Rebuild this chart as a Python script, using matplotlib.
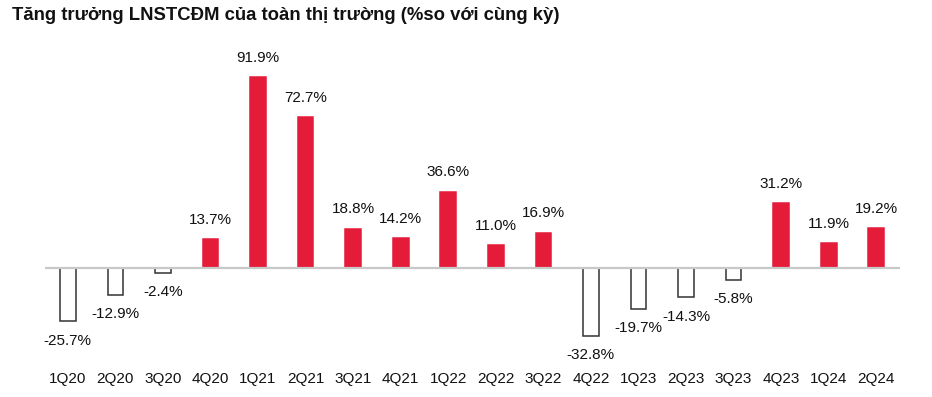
import matplotlib
matplotlib.use("Agg")
import matplotlib.pyplot as plt

plt.rcParams['font.family'] = ['Liberation Sans', 'DejaVu Sans']

quy = ["1Q20", "2Q20", "3Q20", "4Q20", "1Q21", "2Q21", "3Q21", "4Q21", "1Q22",
       "2Q22", "3Q22", "4Q22", "1Q23", "2Q23", "3Q23", "4Q23", "1Q24", "2Q24"]
tang_truong = [-25.7, -12.9, -2.4, 13.7, 91.9, 72.7, 18.8, 14.2, 36.6,
               11.0, 16.9, -32.8, -19.7, -14.3, -5.8, 31.2, 11.9, 19.2]

do = "#E41B39"

fig = plt.figure(figsize=(9.32, 3.97), dpi=100)
ax = fig.add_axes([0.0483, 0.106, 0.9174, 0.768])

x = list(range(len(quy)))
mau = [do if v >= 0 else "white" for v in tang_truong]
vien = [do if v >= 0 else "#333333" for v in tang_truong]
ax.bar(x, tang_truong, width=0.33, color=mau, edgecolor=vien, linewidth=1.1, zorder=2)
ax.axhline(0, color="#C8C8C8", linewidth=1.6, zorder=3)

# nhãn giá trị trên/dưới cột
for i, v in enumerate(tang_truong):
    dy = 14 if v >= 0 else -14
    ax.annotate(f"{v:.1f}%", (i, v), xytext=(0, dy), textcoords="offset points",
                ha="center", va="center", fontsize=11, color="#111111")

ax.set_xlim(-0.48, 17.5)
ax.set_ylim(-42, 105)
ax.set_xticks(x)
ax.set_xticklabels(quy, fontsize=11, color="#111111")
ax.tick_params(axis="x", length=0, pad=12)
ax.set_yticks([])
for s in ax.spines.values():
    s.set_visible(False)

fig.text(0.013, 0.962, "Tăng trưởng LNSTCĐM của toàn thị trường (%so với cùng kỳ)",
         fontsize=13.3, fontweight="bold", ha="left", va="center", color="#111111")

fig.savefig("out.png", dpi=100)
